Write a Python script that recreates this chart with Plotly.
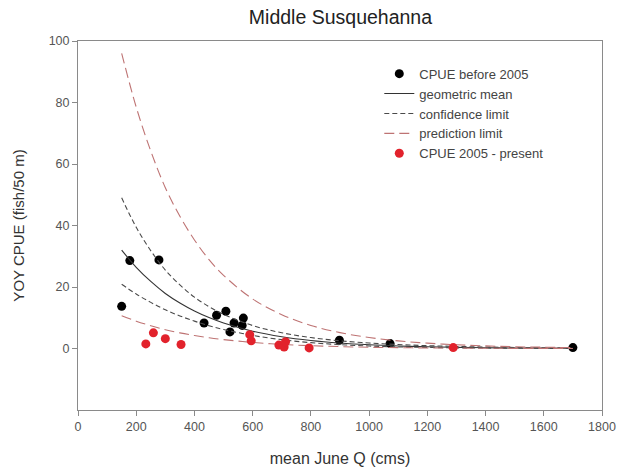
import plotly.graph_objects as go

# ---- data ----
before_q = [150, 178, 278, 433, 476, 508, 536, 568, 564, 522, 898, 1072, 1700]
before_cpue = [13.7, 28.6, 28.8, 8.3, 10.8, 12.1, 8.3, 9.9, 7.5, 5.4, 2.7, 1.6, 0.3]

after_q = [233, 259, 300, 354, 590, 595, 690, 708, 713, 794, 1289]
after_cpue = [1.5, 5.1, 3.2, 1.3, 4.5, 2.5, 1.1, 0.5, 2.2, 0.2, 0.3]

curve_q = [150, 200, 250, 300, 350, 400, 450, 500, 600, 700, 800, 900, 1000,
           1100, 1200, 1300, 1400, 1500, 1600, 1700]
geo_mean = [32.0, 26.4, 21.8, 17.9, 14.8, 12.2, 10.05, 8.29, 5.63, 3.83, 2.60,
            1.77, 1.20, 0.82, 0.56, 0.38, 0.26, 0.17, 0.12, 0.08]
conf_upper = [49.0, 39.4, 31.8, 25.5, 20.7, 16.7, 13.6, 11.1, 7.46, 5.11, 3.55,
              2.51, 1.78, 1.28, 0.93, 0.67, 0.49, 0.34, 0.26, 0.18]
conf_lower = [20.9, 17.7, 15.0, 12.6, 10.6, 8.9, 7.4, 6.2, 4.25, 2.87, 1.90,
              1.25, 0.81, 0.52, 0.34, 0.22, 0.14, 0.085, 0.056, 0.035]
pred_upper = [96.0, 78.5, 64.2, 52.3, 43.0, 35.3, 28.9, 23.8, 16.1, 11.0, 7.5,
              5.17, 3.56, 2.48, 1.74, 1.21, 0.86, 0.58, 0.42, 0.29]
pred_lower = [10.67, 8.88, 7.40, 6.12, 5.09, 4.22, 3.49, 2.89, 1.97, 1.34, 0.90,
              0.61, 0.40, 0.27, 0.18, 0.12, 0.079, 0.05, 0.034, 0.022]

x_ticks = [0, 200, 400, 600, 800, 1000, 1200, 1400, 1600, 1800]
y_ticks = [0, 20, 40, 60, 80, 100]

FONT = "Liberation Sans, Arial, sans-serif"
conf_col = "#4a4a4a"
pred_col = "rgb(190,115,115)"

fig = go.Figure()

fig.add_trace(go.Scatter(x=before_q, y=before_cpue, mode="markers",
                         name="CPUE before 2005",
                         marker=dict(color="black", size=9)))
fig.add_trace(go.Scatter(x=curve_q, y=geo_mean, mode="lines", name="geometric mean",
                         line=dict(color="#333333", width=1.1, shape="spline")))
fig.add_trace(go.Scatter(x=curve_q, y=conf_upper, mode="lines", name="confidence limit",
                         legendgroup="conf",
                         line=dict(color=conf_col, width=1.1, dash="5px,3px", shape="spline")))
fig.add_trace(go.Scatter(x=curve_q, y=conf_lower, mode="lines", name="confidence limit",
                         legendgroup="conf", showlegend=False,
                         line=dict(color=conf_col, width=1.1, dash="5px,3px", shape="spline")))
fig.add_trace(go.Scatter(x=curve_q, y=pred_upper, mode="lines", name="prediction limit",
                         legendgroup="pred",
                         line=dict(color=pred_col, width=1.1, dash="10px,5px", shape="spline")))
fig.add_trace(go.Scatter(x=curve_q, y=pred_lower, mode="lines", name="prediction limit",
                         legendgroup="pred", showlegend=False,
                         line=dict(color=pred_col, width=1.1, dash="10px,5px", shape="spline")))
fig.add_trace(go.Scatter(x=after_q, y=after_cpue, mode="markers",
                         name="CPUE 2005 - present",
                         marker=dict(color="#e2222c", size=9)))

axis_common = dict(showgrid=False, zeroline=False, showline=True, linecolor="#8a8a8a",
                   linewidth=1, mirror=True, ticks="outside", ticklen=5, automargin=False,
                   tickcolor="#8a8a8a", tickfont=dict(size=12.5, color="#555555", family=FONT))

fig.update_xaxes(range=[0, 1800], tickvals=x_ticks,
                 title=dict(text="mean June Q (cms)", font=dict(size=16, color="#333333", family=FONT),
                            standoff=19),
                 **axis_common)
fig.update_yaxes(range=[-20, 100], tickvals=y_ticks,
                 title=dict(text="YOY CPUE (fish/50 m)", font=dict(size=15, color="#333333", family=FONT),
                            standoff=20),
                 **axis_common)

fig.update_layout(
    width=619, height=468,
    margin=dict(l=78, r=17, t=41, b=58),
    paper_bgcolor="white", plot_bgcolor="white",
    font=dict(family=FONT, color="#333333"),
    title=dict(text="Middle Susquehanna", x=0.55, xanchor="center", y=0.963, yanchor="middle",
               font=dict(size=19.5, color="#222222", family=FONT)),
    legend=dict(x=0.575, y=0.952, xanchor="left", yanchor="top",
                bgcolor="rgba(0,0,0,0)", font=dict(size=13, color="#444444", family=FONT),
                tracegroupgap=0, itemwidth=30),
    showlegend=True,
)

fig.write_html("out.html")
